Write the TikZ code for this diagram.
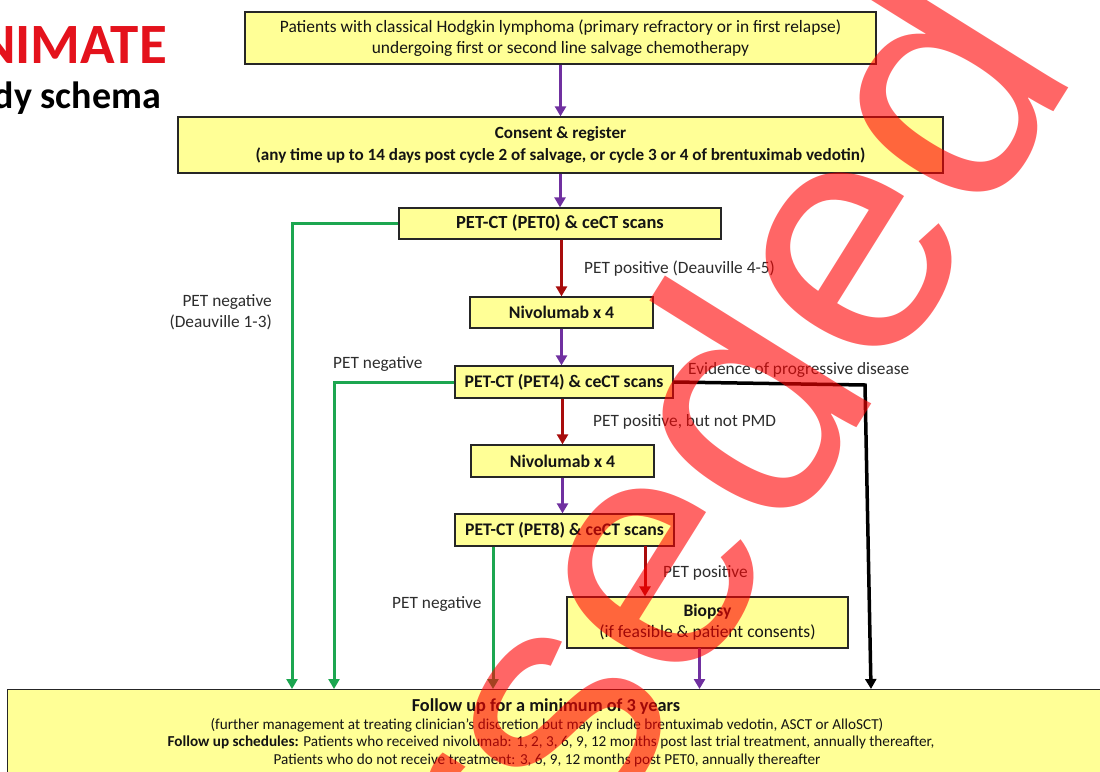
\documentclass[tikz,border=0pt]{standalone}
\usepackage{fontspec}
\setmainfont{Carlito}
\newfontfamily\wmfont{Liberation Sans}
\usetikzlibrary{arrows.meta}
\definecolor{boxfill}{RGB}{255,255,150}
\definecolor{arrpurple}{RGB}{112,48,160}
\definecolor{arrred}{RGB}{168,12,12}
\definecolor{arrgreen}{RGB}{28,166,80}
\definecolor{titlered}{RGB}{228,18,28}
\definecolor{labgray}{RGB}{45,45,45}
\begin{document}
\begin{tikzpicture}[x=1pt,y=-1pt,
  ybox/.style={draw=black!85, line width=1.3pt, fill=boxfill, inner sep=0pt, align=center, text=black!92},
  bfbox/.style={ybox, font=\bfseries\fontsize{17.7}{21}\selectfont},
  conn/.style={line width=3pt, -{Triangle[width=11pt,length=10pt]}},
  gline/.style={conn, draw=arrgreen},
  lab/.style={inner sep=0pt, text=labgray, font=\fontsize{17.3}{21}\selectfont},
  futxt/.style={inner sep=0pt, anchor=base, text=black!92, font=\fontsize{15.2}{18}\selectfont}]
\useasboundingbox (0,0) rectangle (1100,771);
\clip (0,0) rectangle (1100,771);
\fill[white] (0,0) rectangle (1100,771);
% title
\node[anchor=base east, inner sep=0pt, text=titlered, font=\bfseries\fontsize{57}{60}\selectfont] (title) at (167,63) {ANIMATE};
\node[anchor=base east, inner sep=0pt, text=black, font=\bfseries\fontsize{38}{42}\selectfont] (sub) at (161,108) {Study schema};
% boxes
\node[ybox, minimum width=631, minimum height=52, font=\fontsize{17.4}{20.5}\selectfont] (b1) at (560.5,38) {Patients with classical Hodgkin lymphoma (primary refractory or in first relapse)\\undergoing first or second line salvage chemotherapy};
\node[bfbox, minimum width=765, minimum height=56, font=\bfseries\fontsize{17.1}{22}\selectfont] (b2) at (560.5,145) {Consent \& register\\(any time up to 14 days post cycle 2 of salvage, or cycle 3 or 4 of brentuximab vedotin)};
\node[bfbox, minimum width=322, minimum height=31, font=\bfseries\fontsize{18.5}{21}\selectfont] (pet0) at (560,223.5) {PET-CT (PET0) \& ceCT scans};
\node[bfbox, minimum width=183, minimum height=31] (niv1) at (561.5,312.5) {Nivolumab x 4};
\node[bfbox, minimum width=218, minimum height=32] (pet4) at (564,382) {PET-CT (PET4) \& ceCT scans};
\node[bfbox, minimum width=183, minimum height=32] (niv2) at (562.5,461) {Nivolumab x 4};
\node[bfbox, minimum width=219, minimum height=32] (pet8) at (564.5,530) {PET-CT (PET8) \& ceCT scans};
\node[ybox, minimum width=281, minimum height=51, font=\fontsize{17.5}{21}\selectfont] (bio) at (707.5,622.5) {\textbf{Biopsy}\\(if feasible \& patient consents)};
\node[ybox, anchor=north west, minimum width=1098, minimum height=120] (fu) at (7,689) {};
\node[futxt, font=\bfseries\fontsize{18.3}{20}\selectfont] (fu1) at (546,711) {Follow up for a minimum of 3 years};
\node[futxt] (fu2) at (547,729) {(further management at treating clinician’s discretion but may include brentuximab vedotin, ASCT or AlloSCT)};
\node[futxt] (fu3) at (551,746) {\textbf{Follow up schedules:} Patients who received nivolumab: 1, 2, 3, 6, 9, 12 months post last trial treatment, annually thereafter,};
\node[futxt] (fu4) at (547,764) {Patients who do not receive treatment: 3, 6, 9, 12 months post PET0, annually thereafter};
% helper coordinates
\coordinate (g1) at (292,0);
\coordinate (g2) at (334,0);
\coordinate (g3) at (493,0);
\coordinate (p8r) at (645,546);
\coordinate (bo) at (699.5,648);
\coordinate (bk) at (865,385);
\coordinate (bkend) at (871,0);
% main vertical arrows
\draw[conn, draw=arrpurple] (b1) -- (b2);
\draw[conn, draw=arrpurple] (b2.south -| pet0.north) -- (pet0.north);
\draw[conn, draw=arrred] (pet0.south -| niv1.north) -- (niv1.north);
\draw[conn, draw=arrpurple] (niv1.south) -- (niv1.south |- pet4.north);
\draw[conn, draw=arrred] (pet4.south -| niv2.north) -- (niv2.north);
\draw[conn, draw=arrpurple] (niv2.south) -- (niv2.south |- pet8.north);
\draw[conn, draw=arrred] (p8r) -- (p8r |- bio.north);
\draw[conn, draw=arrpurple] (bo) -- (bo |- fu.north);
% green negative branches
\draw[gline] (pet0.west) -| (g1 |- fu.north);
\draw[gline] (pet4.west) -| (g2 |- fu.north);
\draw[gline] (pet8.south -| g3) -- (g3 |- fu.north);
% progressive disease
\draw[line width=3.5pt, -{Triangle[width=11pt,length=10pt]}] (pet4.east) -- (bk) -- (bkend |- fu.north);
% labels
\node[lab, anchor=base west] (l1) at (584,273) {PET positive (Deauville 4-5)};
\node[lab, anchor=east, align=right] (l2) at (272,312) {PET negative\\(Deauville 1-3)};
\node[lab, anchor=base west] (l3) at (333,368) {PET negative};
\node[lab, anchor=base west] (l4) at (688,374) {Evidence of progressive disease};
\node[lab, anchor=base west] (l5) at (593,426) {PET positive, but not PMD};
\node[lab, anchor=base west] (l6) at (663,577) {PET positive};
\node[lab, anchor=base west] (l7) at (392,608) {PET negative};
% watermark
\node[rotate=58, anchor=base east, inner sep=0pt, text=red, opacity=0.6, font=\wmfont\fontsize{335}{335}\selectfont] (wm) at (1081,69) {Superseded};
\end{tikzpicture}
\end{document}
